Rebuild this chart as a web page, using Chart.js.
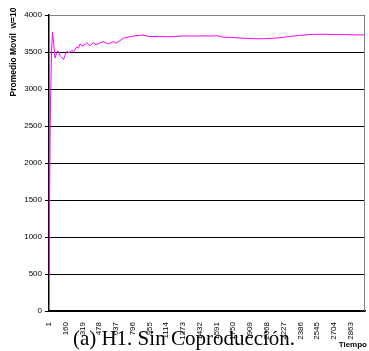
<!DOCTYPE html>
<html>
<head>
<meta charset="utf-8">
<script src="https://cdn.jsdelivr.net/npm/chart.js@4/dist/chart.umd.min.js"></script>
<style>
  html, body { margin: 0; padding: 0; background: #fff; }
  #wrap { position: relative; width: 369px; height: 351px; }
</style>
</head>
<body>
<div id="wrap"><canvas id="c" width="369" height="351"></canvas></div>
<script>
// Moving average (window 10) over time steps
const tiempo = [1, 6, 15, 25, 34, 43, 58, 72, 86, 110, 139, 157, 172, 191, 216, 238, 263, 281, 295, 323,
  359, 390, 421, 447, 469, 516, 563, 610, 637, 674, 706, 750, 800, 845, 895, 939, 986, 1053, 1130, 1212,
  1291, 1385, 1480, 1528, 1604, 1652, 1718, 1794, 1869, 1971, 2049, 2116, 2192, 2286, 2380, 2504, 2618,
  2714, 2809, 2903, 3000];
const promedio = [500, 1500, 2800, 3500, 3770, 3650, 3420, 3480, 3515, 3440, 3400, 3470, 3510, 3490, 3520, 3510, 3565, 3555, 3608, 3580,
  3626, 3585, 3626, 3600, 3612, 3640, 3608, 3640, 3620, 3653, 3685, 3700, 3716, 3722, 3730, 3712, 3707, 3712, 3705, 3710,
  3718, 3715, 3718, 3716, 3720, 3700, 3698, 3690, 3685, 3678, 3680, 3685, 3693, 3710, 3725, 3738, 3740,
  3735, 3735, 3732, 3730];
const xTicks = [1, 160, 319, 478, 637, 796, 955, 1114, 1273, 1432, 1591, 1750, 1909, 2068, 2227, 2386, 2545, 2704, 2863];
const yTicks = [0, 500, 1000, 1500, 2000, 2500, 3000, 3500, 4000];

const caption = '(a) H1. Sin Coproducción.';
const yTitle = 'Promedio Movil  w=10';
const xTitle = 'Tiempo';

const points = tiempo.map((t, i) => ({ x: t, y: promedio[i] }));

const frameAndText = {
  id: 'frameAndText',
  afterDraw(chart) {
    const { ctx, chartArea: a } = chart;
    ctx.save();
    // plot frame: top and right edges
    ctx.strokeStyle = '#808080';
    ctx.lineWidth = 1;
    ctx.beginPath();
    ctx.moveTo(a.left, a.top + 0.5);
    ctx.lineTo(a.right - 0.5, a.top + 0.5);
    ctx.lineTo(a.right - 0.5, a.bottom);
    ctx.stroke();
    // caption
    ctx.fillStyle = '#000';
    ctx.font = '21px "Liberation Serif"';
    ctx.textAlign = 'center';
    ctx.textBaseline = 'alphabetic';
    ctx.fillText(caption, 184, 345);
    // x axis title
    ctx.font = 'bold 8px "Liberation Sans"';
    ctx.textAlign = 'right';
    ctx.fillText(xTitle, 367, 347);
    // y axis title
    ctx.translate(14, 52);
    ctx.rotate(-Math.PI / 2);
    ctx.font = 'bold 8.5px "Liberation Sans"';
    ctx.textAlign = 'center';
    ctx.textBaseline = 'middle';
    ctx.fillText(yTitle, 0, 0);
    ctx.restore();
  }
};

new Chart(document.getElementById('c'), {
  type: 'line',
  data: {
    datasets: [{
      data: points,
      borderColor: '#ff00ff',
      borderWidth: 1,
      pointRadius: 0,
      tension: 0,
      fill: false
    }]
  },
  options: {
    responsive: false,
    animation: false,
    devicePixelRatio: 1,
    layout: { padding: { top: 15, right: 4, left: 0, bottom: 0 } },
    plugins: { legend: { display: false }, tooltip: { enabled: false } },
    scales: {
      x: {
        type: 'linear',
        min: 1,
        max: 3000,
        afterBuildTicks: s => { s.ticks = xTicks.map(v => ({ value: v })); },
        afterFit: s => { s.height = 40; },
        grid: { display: false },
        border: { display: true, color: '#000', width: 1.5 },
        ticks: {
          autoSkip: false,
          minRotation: 90,
          maxRotation: 90,
          padding: 3,
          color: '#000',
          font: { family: 'Liberation Sans', size: 8 },
          callback: v => String(v)
        }
      },
      y: {
        min: 0,
        max: 4000,
        afterBuildTicks: s => { s.ticks = yTicks.map(v => ({ value: v })); },
        afterFit: s => { s.width = 49; },
        grid: { color: '#000', lineWidth: 1, tickLength: 4, drawTicks: true },
        border: { display: true, color: '#000', width: 1.5 },
        ticks: {
          padding: 3,
          color: '#000',
          font: { family: 'Liberation Sans', size: 8 },
          callback: v => String(v)
        }
      }
    }
  },
  plugins: [frameAndText]
});
</script>
</body>
</html>
